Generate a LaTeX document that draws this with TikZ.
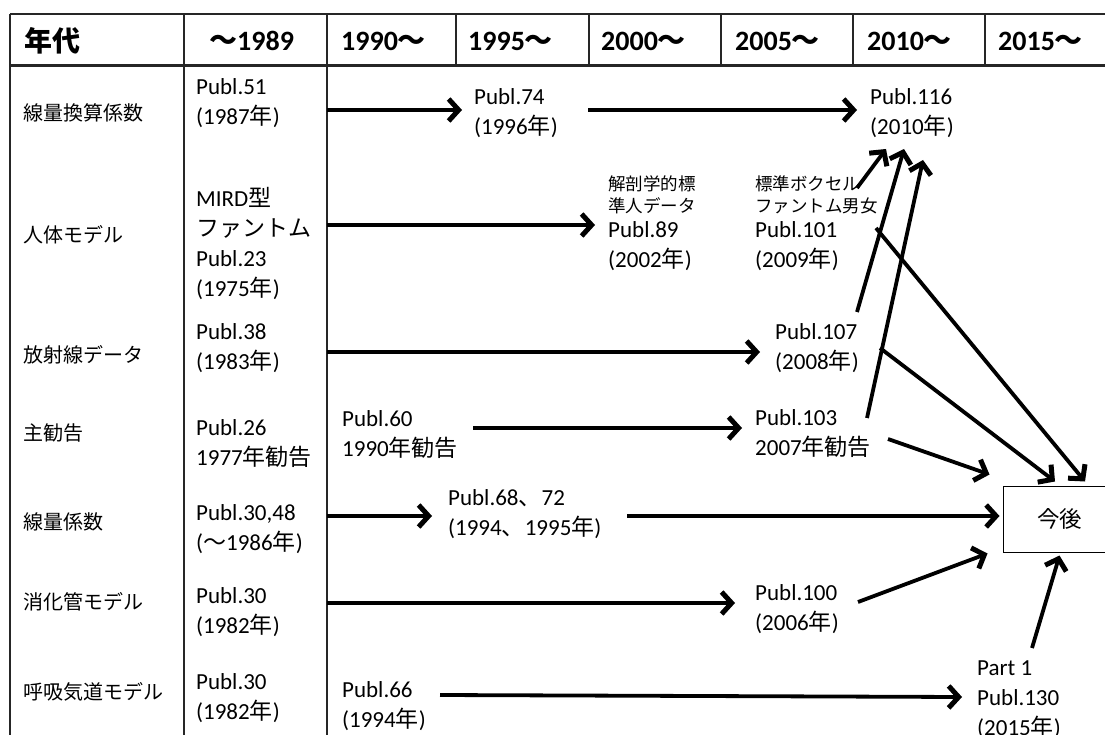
\documentclass[tikz,border=0pt]{standalone}
\usepackage{fontspec}
\setmainfont{Carlito}
\newfontfamily\jpfont{Noto Sans CJK JP}
\usetikzlibrary{arrows.meta,calc}

% Japanese characters are switched to the CJK family automatically
\XeTeXinterchartokenstate=1
\newXeTeXintercharclass\jpclass
\makeatletter
\count@="3000
\loop\ifnum\count@<"3100 \XeTeXcharclass\count@=\jpclass \advance\count@ by 1 \repeat
\count@="4E00
\loop\ifnum\count@<"A000 \XeTeXcharclass\count@=\jpclass \advance\count@ by 1 \repeat
\count@="FF00
\loop\ifnum\count@<"FFF0 \XeTeXcharclass\count@=\jpclass \advance\count@ by 1 \repeat
\makeatother
\XeTeXinterchartoks 0 \jpclass = {\jpfont}
\XeTeXinterchartoks 4095 \jpclass = {\jpfont}
\XeTeXinterchartoks \jpclass 0 = {\rmfamily}

\begin{document}
\begin{tikzpicture}[x=1pt,y=-1pt,
  every node/.style={inner sep=0pt, anchor=west, align=left,
    font=\fontsize{23}{30}\selectfont},
  head/.style={font=\fontsize{28}{30}\selectfont\bfseries},
  rowlabel/.style={font=\fontsize{20}{26}\selectfont},
  note/.style={font=\fontsize{17.5}{22}\selectfont},
  rule/.style={line width=1.4pt, black!85},
  conn/.style={line width=3.8pt,
    -{Straight Barb[length=10pt,width=22pt,line width=5pt]}},
]
\useasboundingbox (0,0) rectangle (1105,735);
\clip (0,0) rectangle (1105,735);

% table frame
\draw[rule] (10,14) -- (1105,14);
\draw[line width=3pt, black!85] (10,66) -- (1105,66);
\foreach \x in {456,589,721,853,985} \draw[rule] (\x,14) -- (\x,66);
\foreach \x in {10,184,327} \draw[rule] (\x,14) -- (\x,735);

% header row
\node[head] (h0) at (24,41) {年代};
\node[head] (h1) at (209,41) {～1989};
\node[head] (h2) at (341,41) {1990～};
\node[head] (h3) at (468,41) {1995～};
\node[head] (h4) at (601,41) {2000～};
\node[head] (h5) at (735,41) {2005～};
\node[head] (h6) at (867,41) {2010～};
\node[head] (h7) at (998,41) {2015～};

% row labels
\node[rowlabel] (l1) at (23,113) {線量換算係数};
\node[rowlabel] (l2) at (23,235) {人体モデル};
\node[rowlabel] (l3) at (23,355) {放射線データ};
\node[rowlabel] (l4) at (23,433) {主勧告};
\node[rowlabel] (l5) at (23,522) {線量係数};
\node[rowlabel] (l6) at (23,602) {消化管モデル};
\node[rowlabel] (l7) at (23,692) {呼吸気道モデル};

% publications up to 1989
\node (p51)  at (196,103) {Publ.51\\(1987年)};
\node (p23)  at (196,244) {MIRD型\\ファントム\\Publ.23\\(1975年)};
\node (p38)  at (196,348) {Publ.38\\(1983年)};
\node (p26)  at (196,444) {Publ.26\\1977年勧告};
\node (p30a) at (196,529) {Publ.30,48\\(～1986年)};
\node (p30b) at (196,612) {Publ.30\\(1982年)};
\node (p30c) at (196,698) {Publ.30\\(1982年)};

% later publications
\node (p74)  at (474,113) {Publ.74\\(1996年)};
\node (p116) at (870,113) {Publ.116\\(2010年)};
\node[note] (a89) at (608,195) {解剖学的標\\準人データ};
\node (p89)  at (608,246) {Publ.89\\(2002年)};
\node[note] (a101) at (755,195) {標準ボクセル\\ファントム男女};
\node (p101) at (755,246) {Publ.101\\(2009年)};
\node (p107) at (775,348) {Publ.107\\(2008年)};
\node (p60)  at (342,435) {Publ.60\\1990年勧告};
\node (p103) at (755,434) {Publ.103\\2007年勧告};
\node (p68)  at (448,514) {Publ.68、72\\(1994、1995年)};
\node (p100) at (755,609) {Publ.100\\(2006年)};
\node (p66)  at (342,706) {Publ.66\\(1994年)};
\node (p130) at (977,700) {Part 1\\Publ.130\\(2015年)};
\node[draw, line width=1pt, anchor=center, minimum width=113pt, minimum height=66pt,
  font=\fontsize{22.5}{26}\selectfont] (next) at (1059.5,519) {今後};

% starting points on the column rule
\coordinate (s1) at (327,110);
\coordinate (s2) at (327,225);
\coordinate (s3) at (327,352);
\coordinate (s5) at (327,516);
\coordinate (s6) at (327,603);

% horizontal connectors
\draw[conn] (s1) -- ($(p74.west)+(-12,-3)$);
\draw[conn] ($(p74.west)+(114,-3)$) -- ($(p116.west)+(-13,-3)$);
\draw[conn] (s2) -- ($(p89.west)+(-13,-21)$);
\draw[conn] (s3) -- ($(p107.west)+(-15,4)$);
\draw[conn] ($(p60.west)+(131,-7)$) -- ($(p103.west)+(-13,-6)$);
\draw[conn] (s5) -- ($(p68.west)+(-16,2)$);
\draw[conn] ($(p68.west)+(179,2)$) -- ($(next.west)+(-3,-3)$);
\draw[conn] (s6) -- ($(p100.west)+(-20,-6)$);
\draw[conn] ($(p66.west)+(98,-11)$) -- ($(p130.west)+(-15,-3)$);

% converging on Publ.116
\draw[conn] ($(a101.west)+(102,-7)$) -- ($(p116.west)+(16,36)$);
\draw[conn] ($(p107.west)+(82,-36)$) -- ($(p116.west)+(34,36)$);
\draw[conn] ($(p103.west)+(112,-16)$) -- ($(p116.west)+(53,47)$);

% converging on the future box
\draw[conn] ($(p101.west)+(121,-18)$) -- ($(next.north)+(25.5,-4)$);
\draw[conn] ($(p107.west)+(105,0)$) -- ($(next.north)+(-4.5,-4)$);
\draw[conn] ($(p103.west)+(133,5)$) -- ($(next.north west)+(-13,-11)$);
\draw[conn] ($(p100.west)+(103,-7)$) -- ($(next.south west)+(-15,1)$);
\draw[conn] ($(p130.west)+(55,-52)$) -- ($(next.south)+(0,3)$);
\end{tikzpicture}
\end{document}
